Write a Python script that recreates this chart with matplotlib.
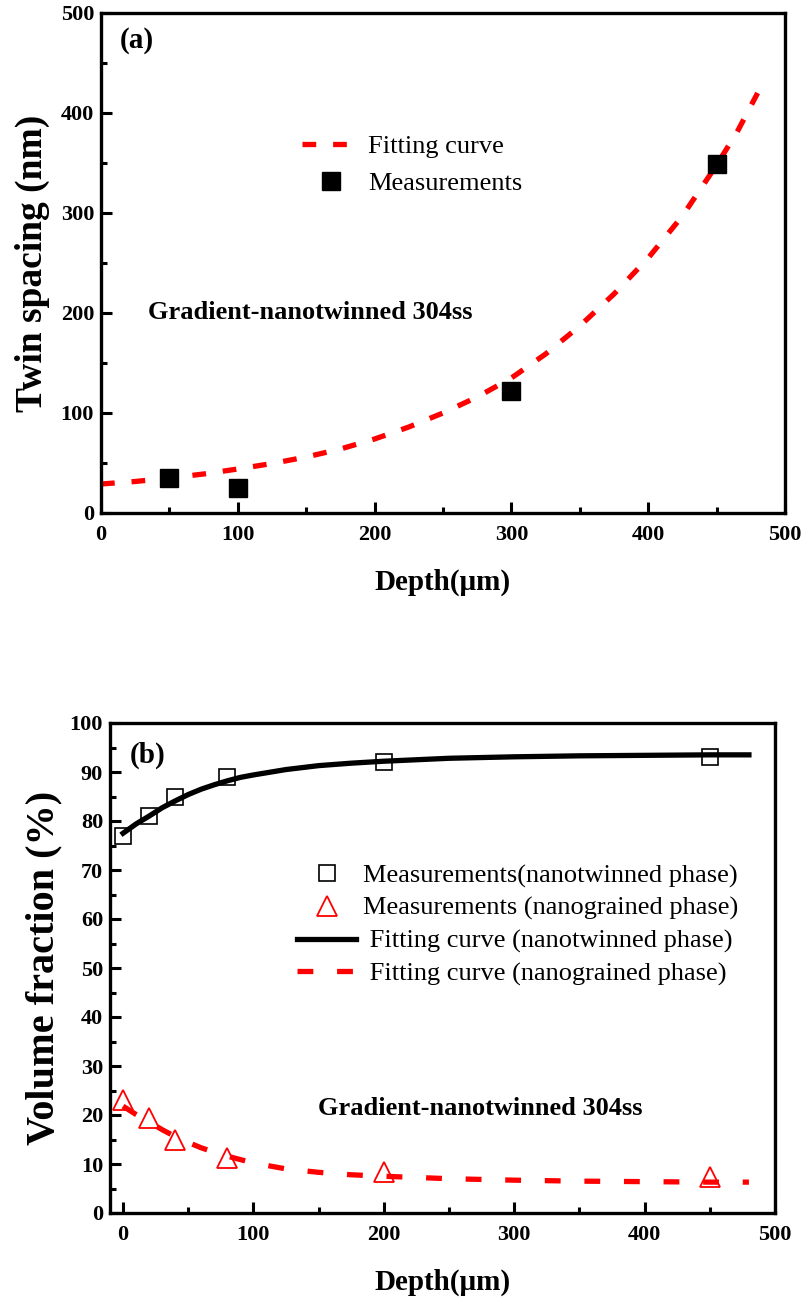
import numpy as np
import matplotlib
matplotlib.use('Agg')
import matplotlib.pyplot as plt
from matplotlib.ticker import MultipleLocator

plt.rcParams['font.family'] = ['Liberation Serif', 'DejaVu Serif']
plt.rcParams['xtick.direction'] = 'in'
plt.rcParams['ytick.direction'] = 'in'

# (a) twin spacing vs depth
depth_meas_a = [50, 100, 300, 450]
spacing_meas = [35, 25, 122, 349]
depth_fit_a = [0, 25, 50, 75, 100, 125, 150, 175, 200, 225, 250, 275, 300,
               325, 350, 375, 400, 425, 450, 465, 480]
spacing_fit = [29, 31.5, 35, 39, 44, 49.5, 56, 64, 74, 86, 100, 116, 135,
               159, 187, 219, 255, 297, 348, 381, 420]

# (b) volume fractions vs depth
depth_meas_b = [0, 20, 40, 80, 200, 450]
nt_meas = [77, 81, 85, 89, 92, 93]
ng_meas = [23, 19.4, 14.9, 11.3, 8.4, 7.3]
depth_fit_b = [0, 10, 20, 30, 40, 50, 60, 70, 80, 90, 100, 125, 150, 175,
               200, 250, 300, 350, 400, 450, 480]
nt_fit = [77.5, 79.4, 81.0, 82.7, 84.1, 85.4, 86.5, 87.4, 88.2, 88.9, 89.4,
          90.5, 91.3, 91.8, 92.2, 92.8, 93.1, 93.3, 93.4, 93.5, 93.5]
ng_fit = [21.8, 20.1, 18.6, 17.0, 15.6, 14.4, 13.3, 12.4, 11.6, 10.9, 10.2,
          9.0, 8.3, 7.8, 7.5, 7.0, 6.7, 6.5, 6.4, 6.3, 6.3]

W, H = 804, 1303
fig = plt.figure(figsize=(W / 100, H / 100), dpi=100)
ax1 = fig.add_axes([101 / W, (H - 513) / H, 684 / W, 500 / H])
ax2 = fig.add_axes([110 / W, (H - 1213) / H, 665 / W, 490 / H])

lw = 3.8
tick_font = 16
label_font = 21
leg_font = 19


def style_axes(ax):
    for s in ax.spines.values():
        s.set_linewidth(2.4)
    ax.tick_params(which='major', length=8, width=2.2, labelsize=tick_font)
    ax.tick_params(which='minor', length=4.5, width=2.2)
    ax.tick_params(axis='x', pad=9)
    ax.tick_params(axis='y', pad=5)
    for t in ax.get_xticklabels() + ax.get_yticklabels():
        t.set_fontweight('bold')


# ---- (a) ----
ax1.plot(depth_fit_a, spacing_fit, color='red', lw=lw,
         linestyle=(0, (2.6, 3.2)), label='Fitting curve')
ax1.plot(depth_meas_a, spacing_meas, 's', color='black', ms=13,
         linestyle='none', label='Measurements')
ax1.set_xlim(0, 500)
ax1.set_ylim(0, 500)
ax1.xaxis.set_major_locator(MultipleLocator(100))
ax1.xaxis.set_minor_locator(MultipleLocator(50))
ax1.yaxis.set_major_locator(MultipleLocator(100))
ax1.yaxis.set_minor_locator(MultipleLocator(50))
style_axes(ax1)
ax1.set_xlabel('Depth(μm)', fontsize=label_font, fontweight='bold', labelpad=17)
ax1.set_ylabel('Twin spacing (nm)', fontsize=27, fontweight='bold',
               labelpad=8)
ax1.text(0.028, 0.944, '(a)', transform=ax1.transAxes, fontsize=21,
         fontweight='bold', va='center', ha='left')
ax1.text(0.069, 0.40, 'Gradient-nanotwinned 304ss', transform=ax1.transAxes,
         fontsize=19, fontweight='bold', va='center', ha='left')
ax1.legend(loc='upper left', bbox_to_anchor=(0.294, 0.756), frameon=False,
           fontsize=leg_font, handlelength=2.2, handletextpad=0.3,
           labelspacing=0.5, borderpad=0, borderaxespad=0)

# ---- (b) ----
ax2.plot(depth_meas_b, nt_meas, 's', ms=12, mfc='none', mec='black',
         mew=1.2, linestyle='none', label='Measurements(nanotwinned phase)')
ax2.plot(depth_meas_b, ng_meas, '^', ms=15, mfc='none', mec='red',
         mew=1.3, linestyle='none', label='Measurements (nanograined phase)')
ax2.plot(depth_fit_b, nt_fit, color='black', lw=lw,
         label=' Fitting curve (nanotwinned phase)')
ax2.plot(depth_fit_b, ng_fit, color='red', lw=lw,
         linestyle=(0, (3.0, 4.5)), label=' Fitting curve (nanograined phase)')
ax2.set_xlim(-10, 500)
ax2.set_ylim(0, 100)
ax2.xaxis.set_major_locator(MultipleLocator(100))
ax2.xaxis.set_minor_locator(MultipleLocator(50))
ax2.yaxis.set_major_locator(MultipleLocator(10))
ax2.yaxis.set_minor_locator(MultipleLocator(5))
style_axes(ax2)
ax2.set_xlabel('Depth(μm)', fontsize=label_font, fontweight='bold', labelpad=17)
ax2.set_ylabel('Volume fraction (%)', fontsize=29, fontweight='bold',
               labelpad=5)
ax2.text(0.030, 0.935, '(b)', transform=ax2.transAxes, fontsize=21,
         fontweight='bold', va='center', ha='left')
ax2.text(0.313, 0.214, 'Gradient-nanotwinned 304ss', transform=ax2.transAxes,
         fontsize=19, fontweight='bold', va='center', ha='left')
ax2.legend(loc='upper left', bbox_to_anchor=(0.281, 0.713), frameon=False,
           fontsize=leg_font, handlelength=2.25, handletextpad=0.27,
           labelspacing=0.34, borderpad=0, borderaxespad=0)

fig.savefig('out.png', dpi=100)
